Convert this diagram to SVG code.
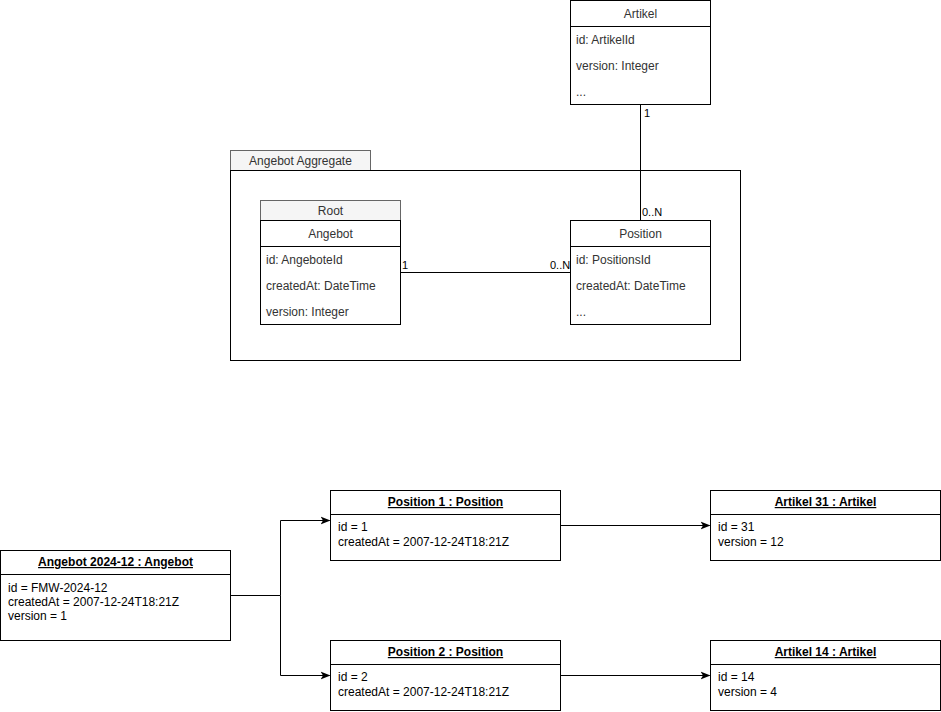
<svg xmlns="http://www.w3.org/2000/svg" width="941" height="712" viewBox="0 0 941 712">
<style>
text{font-family:"Liberation Sans",Arial,sans-serif;font-size:12px;fill:#333333}
.b{fill:#fff;stroke:#000;stroke-width:1}
.g{fill:#f5f5f5;stroke:#666;stroke-width:1}
.l{stroke:#000;stroke-width:1;fill:none}
.c{text-anchor:middle}
.h{font-weight:bold;text-decoration:underline;text-anchor:middle;fill:#000}
.o{fill:#000}
.lbl{font-size:11px;fill:#000}
</style>
<defs>
<marker id="arr" viewBox="0 0 10 10" refX="9" refY="5" markerWidth="10" markerHeight="10" markerUnits="userSpaceOnUse" orient="auto">
<path d="M0,1 L10,5 L0,9 L2.5,5 Z" fill="#000"/>
</marker>
</defs>
<g id="aggregate">
<rect class="g" x="230.5" y="150.5" width="140" height="20"/>
<text class="c" x="300.5" y="164.5" style="fill:#333">Angebot Aggregate</text>
<rect x="230.5" y="170.5" width="510" height="190" fill="#fff" stroke="#000"/>
</g>
<g id="connectors">
<path class="l" d="M640.5,104.5 V220.5"/>
<path class="l" d="M400.5,272.5 H570.5"/>
<path class="l" d="M230.5,595.5 H280.5 V520.5 H329.5" marker-end="url(#arr)"/>
<path class="l" d="M280.5,595.5 V675.5 H329.5" marker-end="url(#arr)"/>
<path class="l" d="M560.5,525.5 H709.5" marker-end="url(#arr)"/>
<path class="l" d="M560.5,675.5 H709.5" marker-end="url(#arr)"/>
<text class="lbl" x="644" y="117">1</text>
<text class="lbl" x="642" y="216">0..N</text>
<text class="lbl" x="402" y="269">1</text>
<text class="lbl" x="550" y="269">0..N</text>
</g>
<g id="artikel">
<rect class="b" x="570.5" y="0.5" width="140" height="104"/>
<line class="l" x1="570.5" y1="26.5" x2="710.5" y2="26.5"/>
<text class="c" x="640.5" y="18">Artikel</text>
<text x="576" y="44">id: ArtikelId</text>
<text x="576" y="70">version: Integer</text>
<text x="576" y="96">...</text>
</g>
<g id="angebot">
<rect class="g" x="260.5" y="200.5" width="140" height="20"/>
<text class="c" x="330.5" y="214.5">Root</text>
<rect class="b" x="260.5" y="220.5" width="140" height="104"/>
<line class="l" x1="260.5" y1="246.5" x2="400.5" y2="246.5"/>
<text class="c" x="330.5" y="238">Angebot</text>
<text x="266" y="264">id: AngeboteId</text>
<text x="266" y="290">createdAt: DateTime</text>
<text x="266" y="316">version: Integer</text>
</g>
<g id="position">
<rect class="b" x="570.5" y="220.5" width="140" height="104"/>
<line class="l" x1="570.5" y1="246.5" x2="710.5" y2="246.5"/>
<text class="c" x="640.5" y="238">Position</text>
<text x="576" y="264">id: PositionsId</text>
<text x="576" y="290">createdAt: DateTime</text>
<text x="576" y="316">...</text>
</g>
<g id="obj-angebot">
<rect class="b" x="0.5" y="550.5" width="230" height="90"/>
<line class="l" x1="0.5" y1="574.5" x2="230.5" y2="574.5"/>
<text class="h" x="115.5" y="566">Angebot 2024-12 : Angebot</text>
<text class="o" x="8" y="592">id = FMW-2024-12</text>
<text class="o" x="8" y="606">createdAt = 2007-12-24T18:21Z</text>
<text class="o" x="8" y="620">version = 1</text>
</g>
<g id="obj-position1">
<rect class="b" x="330.5" y="490.5" width="230" height="70"/>
<line class="l" x1="330.5" y1="514.5" x2="560.5" y2="514.5"/>
<text class="h" x="445.5" y="506">Position 1 : Position</text>
<text class="o" x="338" y="531">id = 1</text>
<text class="o" x="338" y="546">createdAt = 2007-12-24T18:21Z</text>
</g>
<g id="obj-artikel31">
<rect class="b" x="710.5" y="490.5" width="230" height="70"/>
<line class="l" x1="710.5" y1="514.5" x2="940.5" y2="514.5"/>
<text class="h" x="825.5" y="506">Artikel 31 : Artikel</text>
<text class="o" x="718" y="531">id = 31</text>
<text class="o" x="718" y="546">version = 12</text>
</g>
<g id="obj-position2">
<rect class="b" x="330.5" y="640.5" width="230" height="70"/>
<line class="l" x1="330.5" y1="664.5" x2="560.5" y2="664.5"/>
<text class="h" x="445.5" y="656">Position 2 : Position</text>
<text class="o" x="338" y="681">id = 2</text>
<text class="o" x="338" y="696">createdAt = 2007-12-24T18:21Z</text>
</g>
<g id="obj-artikel14">
<rect class="b" x="710.5" y="640.5" width="230" height="70"/>
<line class="l" x1="710.5" y1="664.5" x2="940.5" y2="664.5"/>
<text class="h" x="825.5" y="656">Artikel 14 : Artikel</text>
<text class="o" x="718" y="681">id = 14</text>
<text class="o" x="718" y="696">version = 4</text>
</g>
</svg>
